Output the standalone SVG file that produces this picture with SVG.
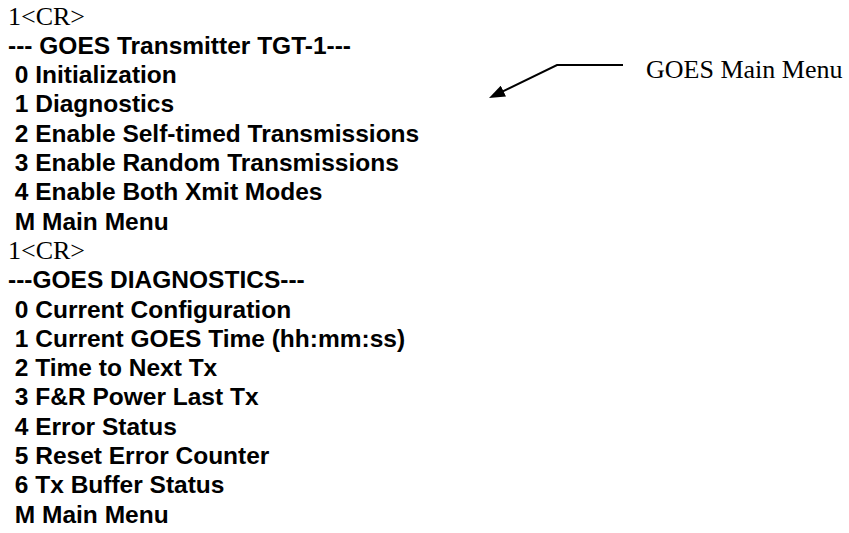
<svg xmlns="http://www.w3.org/2000/svg" width="849" height="533" viewBox="0 0 849 533">
<defs>
<style>
.t{font-family:"Liberation Serif","Times New Roman",serif;font-size:26px;fill:#000}
.b{font-family:"Liberation Sans",Arial,sans-serif;font-size:24.5px;font-weight:bold;fill:#000;white-space:pre}
.c{stroke:#000;stroke-width:2;fill:none}
</style>
<marker id="ah" viewBox="0 0 16 12" refX="4" refY="6" markerWidth="16" markerHeight="12" orient="auto" markerUnits="userSpaceOnUse">
<path d="M0,0 L16,6 L0,12 z" fill="#000"/>
</marker>
</defs>
<rect width="849" height="533" fill="#fff"/>
<g id="main-menu">
<text class="t" x="8" y="24.5">1&lt;CR&gt;</text>
<text class="b" x="8" y="53.8" xml:space="preserve">--- GOES Transmitter TGT-1---</text>
<text class="b" x="8" y="83.1" xml:space="preserve"> 0 Initialization</text>
<text class="b" x="8" y="112.4" xml:space="preserve"> 1 Diagnostics</text>
<text class="b" x="8" y="141.7" xml:space="preserve"> 2 Enable Self-timed Transmissions</text>
<text class="b" x="8" y="171" xml:space="preserve"> 3 Enable Random Transmissions</text>
<text class="b" x="8" y="200.3" xml:space="preserve"> 4 Enable Both Xmit Modes</text>
<text class="b" x="8" y="229.6" xml:space="preserve"> M Main Menu</text>
</g>
<g id="diagnostics-menu">
<text class="t" x="8" y="258.9">1&lt;CR&gt;</text>
<text class="b" x="8" y="288.2" xml:space="preserve">---GOES DIAGNOSTICS---</text>
<text class="b" x="8" y="317.5" xml:space="preserve"> 0 Current Configuration</text>
<text class="b" x="8" y="346.8" xml:space="preserve"> 1 Current GOES Time (hh:mm:ss)</text>
<text class="b" x="8" y="376.1" xml:space="preserve"> 2 Time to Next Tx</text>
<text class="b" x="8" y="405.4" xml:space="preserve"> 3 F&amp;R Power Last Tx</text>
<text class="b" x="8" y="434.7" xml:space="preserve"> 4 Error Status</text>
<text class="b" x="8" y="464" xml:space="preserve"> 5 Reset Error Counter</text>
<text class="b" x="8" y="493.3" xml:space="preserve"> 6 Tx Buffer Status</text>
<text class="b" x="8" y="522.6" xml:space="preserve"> M Main Menu</text>
</g>
<g id="callout-label">
<text class="t" x="646" y="78">GOES Main Menu</text>
</g>
<g id="connectors">
<path class="c" d="M623,65 L557,65 L499.8,92.8" marker-end="url(#ah)"/>
</g>
</svg>
